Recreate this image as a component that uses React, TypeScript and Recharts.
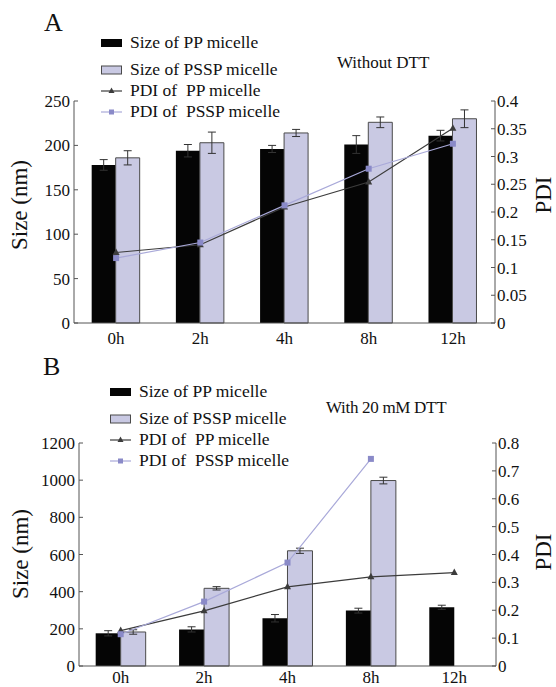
import React from "react";
import { ComposedChart, Bar, Line, XAxis, YAxis, ErrorBar, Legend } from "recharts";

const times = ["0h", "2h", "4h", "8h", "12h"];
const seriesNames = ["Size of PP micelle", "Size of PSSP micelle", "PDI of  PP micelle", "PDI of  PSSP micelle"];

// panel A - without DTT
const sizePPA = [178, 194, 196, 201, 211];
const sizePPErrA = [6, 7, 4, 10, 6];
const sizePSSPA = [186, 203, 214, 226, 230];
const sizePSSPErrA = [8, 12, 4, 6, 10];
const pdiPPA = [0.127, 0.141, 0.209, 0.254, 0.351];
const pdiPSSPA = [0.117, 0.145, 0.212, 0.278, 0.323];

// panel B - with 20 mM DTT
const sizePPB = [176, 197, 257, 298, 316];
const sizePPErrB = [14, 14, 20, 13, 11];
const sizePSSPB = [183, 418, 620, 998, null];
const sizePSSPErrB = [12, 9, 14, 18, null];
const pdiPPB = [0.127, 0.198, 0.284, 0.32, 0.335];
const pdiPSSPB = [0.114, 0.231, 0.371, 0.743, null];

const sizeTicksA = [0, 50, 100, 150, 200, 250];
const pdiTicksA = [0, 0.05, 0.1, 0.15, 0.2, 0.25, 0.3, 0.35, 0.4];
const sizeTicksB = [0, 200, 400, 600, 800, 1000, 1200];
const pdiTicksB = [0, 0.1, 0.2, 0.3, 0.4, 0.5, 0.6, 0.7, 0.8];

const BLACK = "#050505";
const LAVENDER = "#c9c9e3";
const OUTLINE = "#4a4a4a";
const PDI_PP = "#3c3c3c";
const PDI_PSSP = "#a9a9d9";
const PDI_PSSP_DOT = "#8a8ac8";
const AXIS = "#555";
const FONT = '"Liberation Serif", "Times New Roman", serif';

const buildRows = (pp: any[], ppErr: any[], pssp: any[], psspErr: any[], dPP: any[], dPSSP: any[]) =>
  times.map((t, i) => ({
    time: t,
    pp: pp[i],
    ppErr: ppErr[i],
    pssp: pssp[i],
    psspErr: psspErr[i],
    pdiPP: dPP[i],
    pdiPSSP: dPSSP[i],
  }));

const dataA = buildRows(sizePPA, sizePPErrA, sizePSSPA, sizePSSPErrA, pdiPPA, pdiPSSPA);
const dataB = buildRows(sizePPB, sizePPErrB, sizePSSPB, sizePSSPErrB, pdiPPB, pdiPSSPB);

const TriangleDot = (props: any) => {
  const { cx, cy, index } = props;
  if (cx == null || cy == null) return <g key={`t${index}`} />;
  return <path key={`t${index}`} d={`M${cx},${cy - 4}L${cx + 3.5},${cy + 2.5}L${cx - 3.5},${cy + 2.5}Z`} fill={PDI_PP} />;
};

const SquareDot = (props: any) => {
  const { cx, cy, index } = props;
  if (cx == null || cy == null) return <g key={`s${index}`} />;
  return <rect key={`s${index}`} x={cx - 3} y={cy - 3} width={6} height={6} fill={PDI_PSSP_DOT} />;
};

const legendIcon = (i: number) => {
  if (i === 0) return <rect x={0} y={2} width={21} height={8} fill={BLACK} />;
  if (i === 1) return <rect x={0.5} y={2} width={20} height={8} fill={LAVENDER} stroke={OUTLINE} />;
  if (i === 2)
    return (
      <g>
        <line x1={0} y1={6} x2={21} y2={6} stroke={PDI_PP} strokeWidth={1.2} />
        <path d="M10.5,2.5L13.5,8L7.5,8Z" fill={PDI_PP} />
      </g>
    );
  return (
    <g>
      <line x1={0} y1={6} x2={21} y2={6} stroke={PDI_PSSP} strokeWidth={1.2} />
      <rect x={8} y={3.5} width={5} height={5} fill={PDI_PSSP_DOT} />
    </g>
  );
};

const LegendBox = () => (
  <div style={{ fontFamily: FONT, fontSize: 17.5, color: "#111" }}>
    {seriesNames.map((name, i) => (
      <div
        key={name}
        style={{ display: "flex", alignItems: "center", height: 21, marginTop: i === 1 ? 6 : 0, whiteSpace: "pre" }}
      >
        <svg width={22} height={12} style={{ marginRight: 7, flex: "none" }}>
          {legendIcon(i)}
        </svg>
        <span>{name}</span>
      </div>
    ))}
  </div>
);

const yTitle = (text: string, x: number, y: number) => () => (
  <text
    x={x}
    y={y}
    transform={`rotate(-90 ${x} ${y})`}
    textAnchor="middle"
    dominantBaseline="central"
    fontSize={23}
    fill="#111"
    fontFamily={FONT}
  >
    {text}
  </text>
);

type PanelProps = {
  data: any[];
  height: number;
  top: number;
  bottom: number;
  leftW: number;
  rightW: number;
  xH: number;
  xMargin: number;
  sizeTicks: number[];
  pdiTicks: number[];
  legendPos: { top: number; left: number };
  sizeTitle: [number, number];
  pdiTitle: [number, number];
  gap: string;
};

const Panel = (p: PanelProps) => (
  <ComposedChart
    width={556}
    height={p.height}
    data={p.data}
    margin={{ top: p.top, right: 0, bottom: p.bottom, left: 0 }}
    barCategoryGap={p.gap}
    barGap={0}
    style={{ fontFamily: FONT }}
  >
    <XAxis
      dataKey="time"
      height={p.xH}
      axisLine={{ stroke: AXIS }}
      tickLine={false}
      tickSize={0}
      tickMargin={p.xMargin}
      tick={{ fontSize: 17, fill: "#111", fontFamily: FONT }}
    />
    <YAxis
      yAxisId="left"
      width={p.leftW}
      domain={[0, p.sizeTicks[p.sizeTicks.length - 1]]}
      ticks={p.sizeTicks}
      axisLine={{ stroke: AXIS }}
      tickLine={{ stroke: AXIS }}
      tickSize={-4}
      tickMargin={8}
      tick={{ fontSize: 17, fill: "#111", fontFamily: FONT }}
      label={yTitle("Size (nm)", p.sizeTitle[0], p.sizeTitle[1])}
    />
    <YAxis
      yAxisId="right"
      orientation="right"
      width={p.rightW}
      domain={[0, p.pdiTicks[p.pdiTicks.length - 1]]}
      ticks={p.pdiTicks}
      tickFormatter={(v: number) => String(v)}
      axisLine={{ stroke: AXIS }}
      tickLine={{ stroke: AXIS }}
      tickSize={-4}
      tickMargin={6}
      tick={{ fontSize: 17, fill: "#111", fontFamily: FONT, textAnchor: "start" }}
      label={yTitle("PDI", p.pdiTitle[0], p.pdiTitle[1])}
    />
    <Legend
      layout="vertical"
      align="center"
      verticalAlign="middle"
      content={() => <LegendBox />}
      wrapperStyle={{ top: p.legendPos.top, left: p.legendPos.left, width: 260, height: "auto" }}
    />
    <Bar yAxisId="left" dataKey="pp" name={seriesNames[0]} fill={BLACK} isAnimationActive={false}>
      <ErrorBar dataKey="ppErr" width={4} stroke="#333" strokeWidth={1} direction="y" />
    </Bar>
    <Bar yAxisId="left" dataKey="pssp" name={seriesNames[1]} fill={LAVENDER} stroke={OUTLINE} strokeWidth={1} isAnimationActive={false}>
      <ErrorBar dataKey="psspErr" width={4} stroke="#333" strokeWidth={1} direction="y" />
    </Bar>
    <Line
      yAxisId="right"
      dataKey="pdiPP"
      name={seriesNames[2]}
      stroke={PDI_PP}
      strokeWidth={1.2}
      dot={TriangleDot}
      activeDot={false}
      isAnimationActive={false}
    />
    <Line
      yAxisId="right"
      dataKey="pdiPSSP"
      name={seriesNames[3]}
      stroke={PDI_PSSP}
      strokeWidth={1.2}
      dot={SquareDot}
      activeDot={false}
      isAnimationActive={false}
    />
  </ComposedChart>
);

const label = (left: number, top: number, size: number, extra: any = {}) => ({
  position: "absolute" as const,
  left,
  top,
  fontSize: size,
  lineHeight: 1,
  fontFamily: FONT,
  color: "#111",
  whiteSpace: "pre" as const,
  ...extra,
});

export default function App() {
  return (
    <div style={{ position: "absolute", left: 0, top: 0, width: 556, height: 687, background: "#fff", overflow: "hidden" }}>
      <div style={{ position: "absolute", left: 0, top: 345 }}>
        <Panel
          data={dataB}
          height={342}
          top={98}
          bottom={0}
          leftW={79}
          rightW={60}
          xH={21}
          xMargin={5}
          sizeTicks={sizeTicksB}
          pdiTicks={pdiTicksB}
          legendPos={{ top: 36, left: 110 }}
          sizeTitle={[20, 209]}
          pdiTitle={[543, 207]}
          gap="20%"
        />
      </div>
      <div style={{ position: "absolute", left: 0, top: 0 }}>
        <Panel
          data={dataA}
          height={352}
          top={101}
          bottom={7}
          leftW={74}
          rightW={61}
          xH={22}
          xMargin={9}
          sizeTicks={sizeTicksA}
          pdiTicks={pdiTicksA}
          legendPos={{ top: 32, left: 101 }}
          sizeTitle={[19.5, 205]}
          pdiTitle={[543, 195]}
          gap="21%"
        />
      </div>
      <div style={label(44, 10, 26)}>A</div>
      <div style={label(337, 54, 17)}>Without DTT</div>
      <div style={label(43, 354, 26)}>B</div>
      <div style={label(326, 399, 17, { letterSpacing: -0.3 })}>With 20 mM DTT</div>
    </div>
  );
}
